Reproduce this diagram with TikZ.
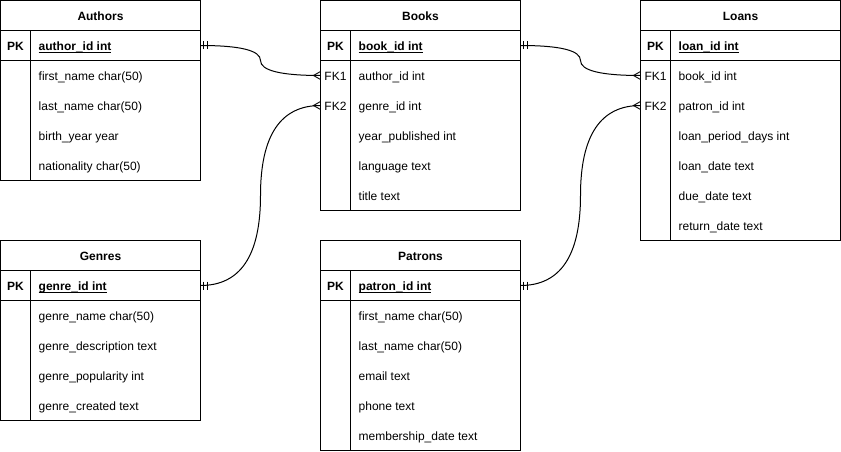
\documentclass[tikz,border=0pt]{standalone}
\usepackage{fontspec}
\setmainfont{Liberation Sans}
\usetikzlibrary{calc}
\newcommand\pkul[1]{\setbox0\hbox{#1}\rlap{\rule[-2.5pt]{\wd0}{0.9pt}}\box0}
\tikzset{
  tablebox/.style={draw, line width=1pt, minimum width=200pt, inner sep=0pt, outer sep=0pt},
  rowbox/.style={minimum width=200pt, minimum height=30pt, inner sep=0pt, outer sep=0pt},
  titletext/.style={anchor=base, inner sep=0pt, font=\fontsize{12pt}{14pt}\selectfont\bfseries},
  keytext/.style={anchor=base, inner sep=0pt},
  fieldtext/.style={anchor=base west, inner sep=0pt},
  sepline/.style={line width=1pt},
  link/.style={line width=1pt, black},
  endmark/.style={line width=0.9pt, black}
}
% #1 table name, #2 index, #3 key, #4 field
\newcommand\errow[4]{%
  \node[rowbox, anchor=north west] (#1-#2) at ($(#1.north west)+(0,{30+30*#2})$) {};
  \node[keytext] (#1-#2-k) at ($(#1-#2.west)+(15,5)$) {#3};
  \node[fieldtext] (#1-#2-f) at ($(#1-#2.west)+(38,5)$) {#4};
}
% #1 name, #2 x, #3 y, #4 height, #5 title
\newcommand\ertable[5]{%
  \node[tablebox, minimum height=#4pt, anchor=north west] (#1) at (#2,#3) {};
  \node[titletext] (#1-title) at ($(#1.north)+(0,20)$) {#5};
  \draw[sepline] ($(#1.north west)+(0,30)$) -- ($(#1.north east)+(0,30)$);
  \draw[sepline] ($(#1.north west)+(0,60)$) -- ($(#1.north east)+(0,60)$);
  \draw[sepline] ($(#1.north west)+(30,30)$) -- ($(#1.south west)+(30,0)$);
}
% #1 source (one side), #2 destination (many side)
\newcommand\erlink[2]{%
  \coordinate (m) at ($(#1)!0.5!(#2)$);
  \coordinate (c1) at (m |- #1);
  \coordinate (c2) at (m |- #2);
  \draw[link] (#1) .. controls ($(#1)!2/3!(c1)$) and ($(m)!2/3!(c1)$) .. (m)
     .. controls ($(m)!2/3!(c2)$) and ($(#2)!2/3!(c2)$) .. (#2);
  \draw[endmark] ($(#1)+(2.5,-4)$) -- ($(#1)+(2.5,4)$);
  \draw[endmark] ($(#1)+(6.5,-4)$) -- ($(#1)+(6.5,4)$);
  \draw[endmark] ($(#2)+(0,-4)$) -- ($(#2)+(-7,0)$) -- ($(#2)+(0,4)$);
}
\begin{document}
\begin{tikzpicture}[x=1pt,y=-1pt,font=\fontsize{12pt}{14pt}\selectfont]
\useasboundingbox (0,0) rectangle (841,452);

% Authors
\ertable{authors}{0.5}{0.5}{180}{Authors}
\errow{authors}{0}{\textbf{PK}}{\textbf{\pkul{author\_id int}}}
\errow{authors}{1}{}{first\_name char(50)}
\errow{authors}{2}{}{last\_name char(50)}
\errow{authors}{3}{}{birth\_year year}
\errow{authors}{4}{}{nationality char(50)}

% Books
\ertable{books}{320.5}{0.5}{210}{Books}
\errow{books}{0}{\textbf{PK}}{\textbf{\pkul{book\_id int}}}
\errow{books}{1}{FK1}{author\_id int}
\errow{books}{2}{FK2}{genre\_id int}
\errow{books}{3}{}{year\_published int}
\errow{books}{4}{}{language text}
\errow{books}{5}{}{title text}

% Loans
\ertable{loans}{640.5}{0.5}{240}{Loans}
\errow{loans}{0}{\textbf{PK}}{\textbf{\pkul{loan\_id int}}}
\errow{loans}{1}{FK1}{book\_id int}
\errow{loans}{2}{FK2}{patron\_id int}
\errow{loans}{3}{}{loan\_period\_days int}
\errow{loans}{4}{}{loan\_date text}
\errow{loans}{5}{}{due\_date text}
\errow{loans}{6}{}{return\_date text}

% Genres
\ertable{genres}{0.5}{240.5}{180}{Genres}
\errow{genres}{0}{\textbf{PK}}{\textbf{\pkul{genre\_id int}}}
\errow{genres}{1}{}{genre\_name char(50)}
\errow{genres}{2}{}{genre\_description text}
\errow{genres}{3}{}{genre\_popularity int}
\errow{genres}{4}{}{genre\_created text}

% Patrons
\ertable{patrons}{320.5}{240.5}{210}{Patrons}
\errow{patrons}{0}{\textbf{PK}}{\textbf{\pkul{patron\_id int}}}
\errow{patrons}{1}{}{first\_name char(50)}
\errow{patrons}{2}{}{last\_name char(50)}
\errow{patrons}{3}{}{email text}
\errow{patrons}{4}{}{phone text}
\errow{patrons}{5}{}{membership\_date text}

% Relationships
\erlink{authors-0.east}{books-1.west}
\erlink{genres-0.east}{books-2.west}
\erlink{books-0.east}{loans-1.west}
\erlink{patrons-0.east}{loans-2.west}
\end{tikzpicture}
\end{document}
